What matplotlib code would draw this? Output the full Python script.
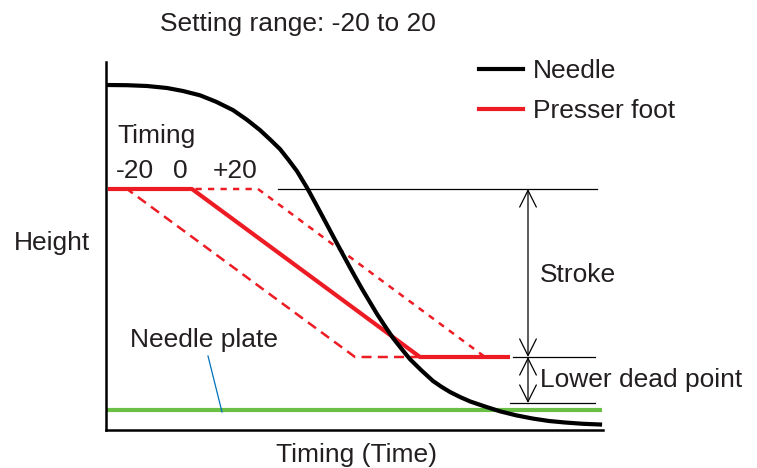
import matplotlib.pyplot as plt
from matplotlib.lines import Line2D

plt.rcParams['font.family'] = ['Liberation Sans', 'DejaVu Sans']

# needle height vs time
needle_t = [1, 21, 41, 61, 77, 94, 110, 127, 141, 154, 164, 174, 183, 191, 201,
            209, 217, 224, 231, 237, 244, 250, 256, 264, 271, 279, 287, 295, 304,
            315, 327, 335, 344, 354, 364, 379, 394, 410, 427, 443, 459, 477, 494]
needle_h = [345, 344.8, 344, 342, 339, 334.7, 328.3, 319.9, 310.2, 299.9, 290.6,
            280.9, 269.5, 258.8, 242.3, 227.6, 212.7, 199.6, 186.5, 175.4, 162.5,
            151.7, 141.1, 127.7, 116, 103.8, 92, 81.8, 70.8, 60, 49, 43.5, 38, 33,
            28.6, 23.5, 18.7, 14.7, 11.4, 9, 7.5, 6.2, 5.5]

# presser foot for the three timing settings
foot_minus20_t = [2, 21, 249, 404]
foot_zero_t = [2, 86, 314, 404]
foot_plus20_t = [2, 152, 379, 404]
foot_h = [241, 241, 73, 73]

timing_labels = ['-20', '0', '+20']
timing_label_x = [10, 67, 107]

plate_h = 20
lower_dead_h = 27
stroke_top_h = 241
stroke_bottom_h = 73

TXT = '#231f20'
RED = '#ed1c24'
GREEN = '#6abf45'
BLUE = '#0072bc'

fig = plt.figure(figsize=(7.57, 4.68), dpi=100)
ax = fig.add_axes([106 / 757, 38 / 468, 497 / 757, 368 / 468])
ax.set_xlim(0, 497)
ax.set_ylim(0, 368)
ax.set_xticks([])
ax.set_yticks([])
for s in ['top', 'right']:
    ax.spines[s].set_visible(False)
for s in ['left', 'bottom']:
    ax.spines[s].set_linewidth(1.8)

# needle plate
ax.plot([0, 496], [plate_h, plate_h], color=GREEN, lw=3, solid_capstyle='butt')

# presser foot
ax.plot(foot_minus20_t, foot_h, color=RED, lw=1.8, ls=(0, (4, 2.5)))
ax.plot(foot_plus20_t, foot_h, color=RED, lw=1.8, ls=(0, (2.5, 2.5)))
ax.plot(foot_zero_t, foot_h, color=RED, lw=3, solid_capstyle='butt')

# needle
ax.plot(needle_t, needle_h, color='black', lw=3, solid_joinstyle='round')

# reference lines and dimension arrows
ax.plot([172, 491], [stroke_top_h, stroke_top_h], color='black', lw=0.9, clip_on=False)
ax.plot([407, 489], [stroke_bottom_h, stroke_bottom_h], color='black', lw=0.9, clip_on=False)
ax.plot([404, 489], [lower_dead_h, lower_dead_h], color='black', lw=0.9, clip_on=False)
arrow = dict(arrowstyle='<->,head_length=0.6,head_width=0.3', color='black', lw=0.9,
             shrinkA=0, shrinkB=0, mutation_scale=20)
ax.annotate('', xy=(422, stroke_top_h), xytext=(422, stroke_bottom_h), arrowprops=arrow)
ax.annotate('', xy=(422, stroke_bottom_h), xytext=(422, lower_dead_h), arrowprops=arrow)

# leader line for needle plate
ax.plot([102, 116], [74, 18], color=BLUE, lw=0.9)

fs = 19
ax.text(54, 399, 'Setting range: -20 to 20', fontsize=fs, color=TXT)
ax.text(11, 287, 'Timing', fontsize=fs, color=TXT)
for lab, x in zip(timing_labels, timing_label_x):
    ax.text(x, 252, lab, fontsize=fs, color=TXT)
ax.text(-92, 180, 'Height', fontsize=fs, color=TXT)
ax.text(434, 148, 'Stroke', fontsize=fs, color=TXT)
ax.text(434, 43, 'Lower dead point', fontsize=fs, color=TXT)
ax.text(24, 83, 'Needle plate', fontsize=fs, color=TXT)
ax.text(250, -32, 'Timing (Time)', fontsize=fs, color=TXT, ha='center')

handles = [Line2D([], [], color='black', lw=3), Line2D([], [], color=RED, lw=3)]
fig.legend(handles, ['Needle', 'Presser foot'], loc='upper left',
           bbox_to_anchor=(479 / 757, 1 - 59 / 468), frameon=False, fontsize=fs,
           handlelength=1.65, handletextpad=0.4, labelspacing=0.62,
           borderpad=0, borderaxespad=0, labelcolor=TXT)

fig.savefig('out.png', dpi=100)
